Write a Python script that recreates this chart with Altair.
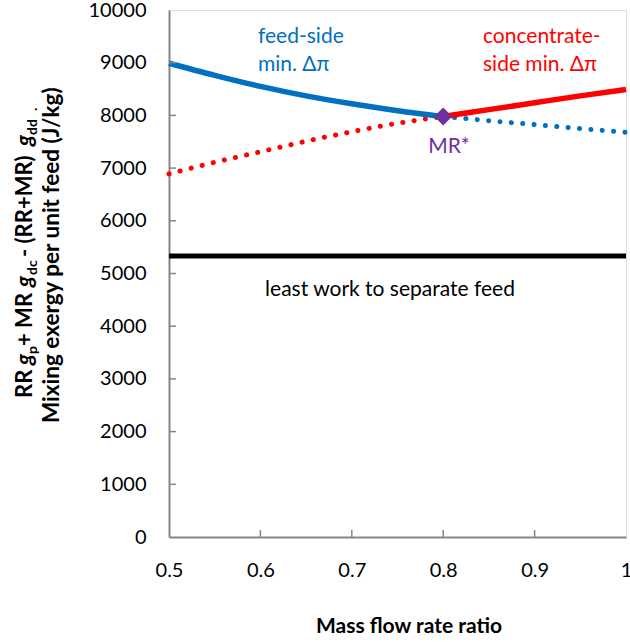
import altair as alt
import pandas as pd

# Mass flow rate ratio (MR) and mixing exergy per unit feed (J/kg)
mr_lo = [0.5, 0.55, 0.6, 0.65, 0.7, 0.75, 0.8]
feed_lo = [8990, 8760, 8550, 8370, 8220, 8090, 7980]
conc_lo = [6890, 7110, 7310, 7510, 7690, 7850, 7980]

mr_hi = [0.8, 0.85, 0.9, 0.95, 1.0]
feed_hi = [7980, 7900, 7825, 7750, 7680]
conc_hi = [7980, 8110, 8240, 8370, 8490]

least_mr = [0.5, 1.0]
least_work = [5330, 5330]

mr_star = [0.8]
mr_star_value = [7980]

x_ticks = [0.5, 0.6, 0.7, 0.8, 0.9, 1.0]
y_ticks = list(range(0, 10001, 1000))

BLUE = "#0070C0"
RED = "#FF0000"
PURPLE = "#7030A0"
GRAY = "#868686"
FONT = "Lato"

W, H = 457, 527

x_scale = alt.Scale(domain=[0.5, 1.0], nice=False, zero=False)
y_scale = alt.Scale(domain=[0, 10000], nice=False)


def frame(xs, ys):
    return pd.DataFrame({"mr": xs, "value": ys})


x_axis = alt.Axis(
    values=x_ticks, labelExpr="datum.value == 1 ? '1' : format(datum.value, '.1f')",
    ticks=False, tickSize=0, grid=False, labelPadding=23, labelFontSize=20,
    labelFont=FONT, labelColor="#000000", domainColor=GRAY, domainWidth=2,
    title=None, labelFlush=False, labelOverlap=False,
)
y_axis = alt.Axis(
    values=y_ticks, format="d", ticks=False, tickSize=0, grid=False,
    labelPadding=23, labelFontSize=20, labelFont=FONT, labelColor="#000000",
    domainColor=GRAY, domainWidth=2, title=None, labelOverlap=False,
)

X = alt.X("mr:Q", scale=x_scale, axis=x_axis)
Y = alt.Y("value:Q", scale=y_scale, axis=y_axis)

solid = dict(strokeWidth=5.5, interpolate="monotone", strokeCap="butt")
dotted = dict(strokeWidth=5, interpolate="monotone", strokeCap="round", strokeDash=[0.1, 11.3])

least = alt.Chart(frame(least_mr, least_work)).mark_line(
    color="#000000", strokeWidth=5, clip=False).encode(x=X, y=Y)

conc_dots = alt.Chart(frame(mr_lo, conc_lo)).mark_line(color=RED, **dotted).encode(x=X, y=Y)
feed_dots = alt.Chart(frame(mr_hi, feed_hi)).mark_line(color=BLUE, **dotted).encode(x=X, y=Y)
feed_line = alt.Chart(frame(mr_lo, feed_lo)).mark_line(color=BLUE, **solid).encode(x=X, y=Y)
conc_line = alt.Chart(frame(mr_hi, conc_hi)).mark_line(color=RED, **solid).encode(x=X, y=Y)

star = alt.Chart(frame(mr_star, mr_star_value)).mark_point(
    shape="diamond", filled=True, size=320, color=PURPLE, opacity=1).encode(x=X, y=Y)

# inward tick marks
ytick_df = pd.DataFrame({"value": y_ticks[1:-1]})
xtick_df = pd.DataFrame({"mr": x_ticks[1:-1]})
y_tick_marks = alt.Chart(ytick_df).mark_rule(color=GRAY, strokeWidth=1.5).encode(
    y=Y, x=alt.value(0), x2=alt.value(7))
x_tick_marks = alt.Chart(xtick_df).mark_rule(color=GRAY, strokeWidth=1.5).encode(
    x=X, y=alt.value(H), y2=alt.value(H - 7))

one = pd.DataFrame({"k": [0]})


def label(text, x, y, color="#000000", size=21, align="left", weight="normal",
          style="normal", angle=0):
    return alt.Chart(one).mark_text(
        text=text, font=FONT, fontSize=size, color=color, align=align,
        baseline="alphabetic", fontWeight=weight, fontStyle=style, angle=angle,
    ).encode(x=alt.value(x), y=alt.value(y))


texts = [
    label("feed-side", 89, 33, BLUE),
    label("min. Δπ", 89, 61, BLUE),
    label("concentrate-", 314, 33, RED),
    label("side min. Δπ", 314, 61, RED),
    label("MR*", 280, 143, PURPLE, align="center"),
    label("least work to separate feed", 221, 286, align="center"),
    label("Mass flow rate ratio", 240, 623, size=21, align="center", weight="bold"),
    label("Mixing exergy per unit feed (J/kg)", -110, 413, size=22.5, weight="bold", angle=270),
]

# first line of the y title, with italic g and subscripts
line1_x = -137
sub_shift = 5
pieces = [
    ("RR ", 388, 22, "normal", 0),
    ("g", 355, 22, "italic", 0),
    ("p", 344, 14, "normal", sub_shift),
    (" + MR ", 336, 22, "normal", 0),
    ("g", 277, 22, "italic", 0),
    ("dc", 265, 14, "normal", sub_shift),
    (" - (RR+MR) ", 247, 22, "normal", 0),
    ("g", 136, 22, "italic", 0),
    ("dd", 125, 14, "normal", sub_shift),
    (".", 101, 14, "normal", sub_shift),
]
for txt, ypos, size, style, shift in pieces:
    texts.append(label(txt, line1_x + shift, ypos, size=size, weight="bold",
                       style=style, angle=270))

chart = alt.layer(
    least, conc_dots, feed_dots, feed_line, conc_line, star,
    y_tick_marks, x_tick_marks, *texts,
).properties(
    width=W, height=H,
    autosize=alt.AutoSizeParams(type="none"),
    padding={"left": 169, "top": 10, "right": 4, "bottom": 105},
).configure_view(
    stroke=GRAY, strokeWidth=2,
).configure(background="white")

chart.save("out.html", embed_options={"renderer": "svg", "actions": False})
